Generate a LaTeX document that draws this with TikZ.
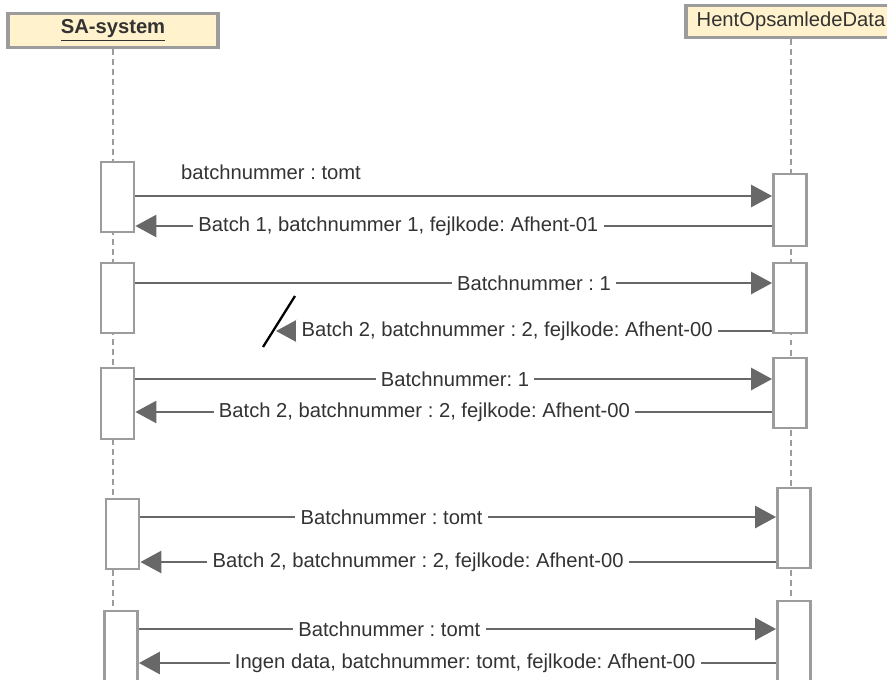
\documentclass[tikz,border=0pt]{standalone}
\usepackage{fontspec}
\setmainfont{Liberation Sans}
\usetikzlibrary{arrows.meta}
\definecolor{lifegray}{HTML}{9C9C9C}
\definecolor{msggray}{HTML}{686868}
\definecolor{headfill}{HTML}{FFF2CC}
\definecolor{txtgray}{HTML}{333333}
\frenchspacing

\begin{document}
\begin{tikzpicture}[x=0.02cm, y=-0.02cm,
    head/.style={draw=lifegray, line width=1.8pt, fill=headfill, minimum width=4.2cm, minimum height=0.64cm, text=txtgray},
    act/.style={draw=lifegray, line width=1.6pt, fill=white, minimum width=0.66cm, minimum height=1.4cm},
    life/.style={draw=lifegray, line width=1.6pt, dash pattern=on 3.4pt off 2.3pt},
    msg/.style={draw=msggray, line width=1.6pt, -{Triangle[length=0.42cm, width=0.44cm]}},
    lbl/.style={fill=white, text=txtgray, inner xsep=3pt, inner ysep=1pt},
    font=\fontsize{11.5}{13}\selectfont]
    \useasboundingbox (0,0) rectangle (887,680);
    \clip (0,0) rectangle (887,680);

    \node[head] at (113, 30.5) (sa) {\underline{\textbf{SA-system}}};
    \node[head] at (791, 21.5) (hent) {HentOpsamledeData};

    \draw[life] (sa.south) -- (sa.south |- 0,700);
    \draw[life] (hent.south) -- (hent.south |- 0,700);

    % activations, SA-system
    \node[act] at (117.5, 197) (sa1) {};
    \node[act] at (117.5, 298) (sa2) {};
    \node[act, minimum height=1.42cm] at (117.5, 403.5) (sa3) {};
    \node[act] at (122.5, 534) (sa4) {};
    \node[act, minimum height=1.76cm] at (121, 655) (sa5) {};

    % activations, HentOpsamledeData
    \node[act, minimum height=1.44cm] at (790, 210) (hd1) {};
    \node[act] at (790, 298) (hd2) {};
    \node[act] at (790, 393) (hd3) {};
    \node[act, minimum height=1.6cm] at (794, 528) (hd4) {};
    \node[act, minimum height=1.96cm] at (794, 650) (hd5) {};

    \draw[msg] (sa1.east |- 0,196) -- (hd1.west |- 0,196) node[pos=0.213, above=5pt, text=txtgray] {batchnummer : tomt};
    \draw[msg] (hd1.west |- 0,226) -- (sa1.east |- 0,226) node[lbl, pos=0.587] {Batch 1, batchnummer 1, fejlkode: Afhent-01};

    \draw[msg] (sa2.east |- 0,283) -- (hd2.west |- 0,283) node[lbl, pos=0.626] {Batchnummer : 1};
    \coordinate (lost) at (276, 331);
    \draw[msg] (hd2.west |- lost) -- (lost) node[lbl, pos=0.534] {Batch 2, batchnummer : 2, fejlkode: Afhent-00};
    \draw[line width=1.3pt] ([shift={(-13,16)}]lost) -- ([shift={(19,-35)}]lost);

    \draw[msg] (sa3.east |- 0,379) -- (hd3.west |- 0,379) node[lbl, pos=0.502] {Batchnummer: 1};
    \draw[msg] (hd3.west |- 0,412) -- (sa3.east |- 0,412) node[lbl, pos=0.546] {Batch 2, batchnummer : 2, fejlkode: Afhent-00};

    \draw[msg] (sa4.east |- 0,517) -- (hd4.west |- 0,517) node[lbl, pos=0.395] {Batchnummer : tomt};
    \draw[msg] (hd4.west |- 0,562) -- (sa4.east |- 0,562) node[lbl, pos=0.563] {Batch 2, batchnummer : 2, fejlkode: Afhent-00};

    \draw[msg] (sa5.east |- 0,629) -- (hd5.west |- 0,629) node[lbl, pos=0.393] {Batchnummer : tomt};
    \draw[msg] (hd5.west |- 0,663) -- (sa5.east |- 0,663) node[lbl, pos=0.488] {Ingen data, batchnummer: tomt, fejlkode: Afhent-00};
\end{tikzpicture}
\end{document}
